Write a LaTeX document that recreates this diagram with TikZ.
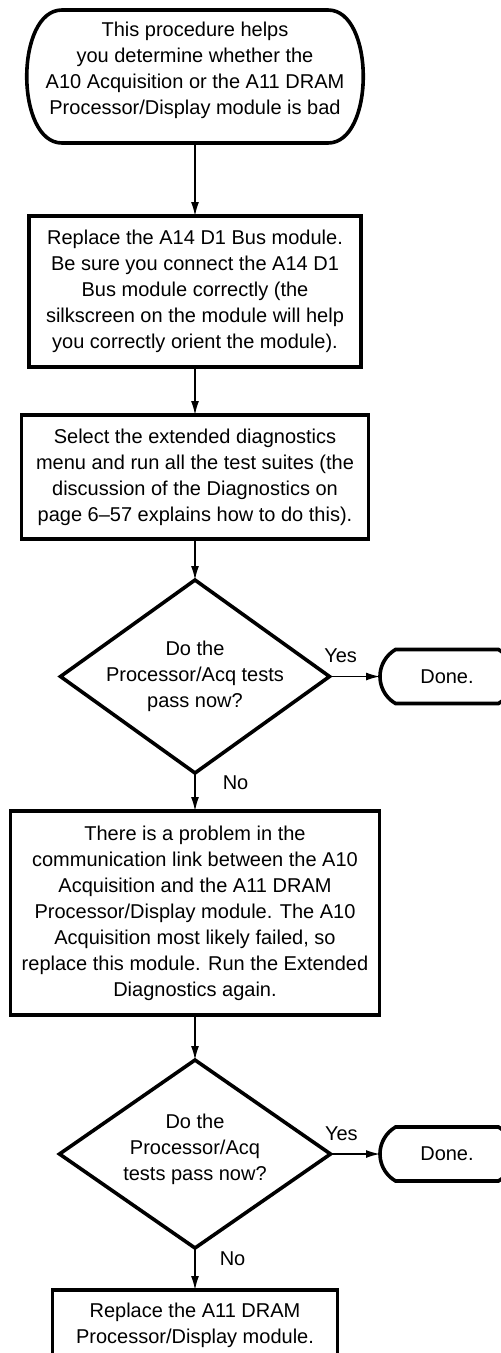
\documentclass[tikz,border=0pt]{standalone}
\usepackage{fontspec}
\setmainfont{Liberation Sans}
\usetikzlibrary{shapes.geometric,shapes.misc,arrows.meta}
\begin{document}
\begin{tikzpicture}[x=1pt,y=-1pt,
  font=\fontsize{20}{26}\selectfont,
  box/.style={draw,line width=3.6pt,align=center,inner sep=0pt,outer sep=0pt},
  dia/.style={draw,diamond,line width=3.6pt,inner sep=0pt,outer sep=0pt},
  term/.style={draw,rounded rectangle,rounded rectangle arc length=120,line width=3.6pt,
    minimum height=54pt,minimum width=134pt,inner sep=0pt,outer sep=0pt},
  arr/.style={line width=1.6pt,-{Latex[length=14pt,width=8pt]}},
  lbl/.style={inner sep=0pt}
]
\useasboundingbox (0,0) rectangle (501,1353);
\clip (0,0) rectangle (501,1353);

% start terminal
\node (start) [align=center,minimum width=337pt,minimum height=133pt,inner sep=0pt,outer sep=0pt]
  at (195,76.5) {\raisebox{6pt}[\height][\depth]{\begin{tabular}{@{}c@{}}This procedure helps\\you determine whether the\\A10 Acquisition or the A11 DRAM\\Processor/Display module is bad\end{tabular}}};
\draw[line width=3.6pt] (62,10) -- (328,10) .. controls (375,10) and (375,143) .. (328,143)
  -- (62,143) .. controls (15,143) and (15,10) .. (62,10) -- cycle;

\node[box,minimum width=332pt,minimum height=151pt] (b1) at (195,291.5)
  {Replace the A14 D1 Bus module.\\Be sure you connect the A14 D1\\Bus module correctly (the\\silkscreen on the module will help\\you correctly orient the module).};

\node[box,minimum width=347pt,minimum height=124pt] (b2) at (195,477)
  {Select the extended diagnostics\\menu and run all the test suites (the\\discussion of the Diagnostics on\\page 6–57 explains how to do this).};

\node[dia,minimum width=269pt,minimum height=193pt] (d1) at (195,676.5)
  {\makebox[90pt]{\begin{tabular}{@{}c@{}}Do the\\Processor/Acq tests\\pass now?\end{tabular}}};

\node[term] (y1) at (447,676.5) {Done.};

\node[box,minimum width=369pt,minimum height=204pt] (b3) at (195,913)
  {There is a problem in the\\communication link between the A10\\Acquisition and the A11 DRAM\\Processor/Display module. The A10\\Acquisition most likely failed, so\\replace this module. Run the Extended\\Diagnostics again.};

\node[dia,minimum width=271pt,minimum height=188pt] (d2) at (195,1154)
  {\makebox[90pt]{\raisebox{5pt}[\height][\depth]{\begin{tabular}{@{}c@{}}Do the\\Processor/Acq\\tests pass now?\end{tabular}}}};

\node[term] (y2) at (447,1154) {Done.};

\node[box,minimum width=285pt,minimum height=70pt] (b4) at (195,1325)
  {Replace the A11 DRAM\\Processor/Display module.};

\draw[arr] (start) -- (b1);
\draw[arr] (b1) -- (b2);
\draw[arr] (b2) -- (d1);
\draw[arr] (d1.east) -- node[lbl,pos=0.22,above=13pt]{Yes} (y1.west);
\draw[arr] (d1) -- node[lbl,pos=0.25,right=27pt]{No} (b3);
\draw[arr] (b3) -- (d2);
\draw[arr] (d2.east) -- node[lbl,pos=0.22,above=13pt]{Yes} (y2.west);
\draw[arr] (d2) -- node[lbl,pos=0.25,right=24pt]{No} (b4);
\end{tikzpicture}
\end{document}
